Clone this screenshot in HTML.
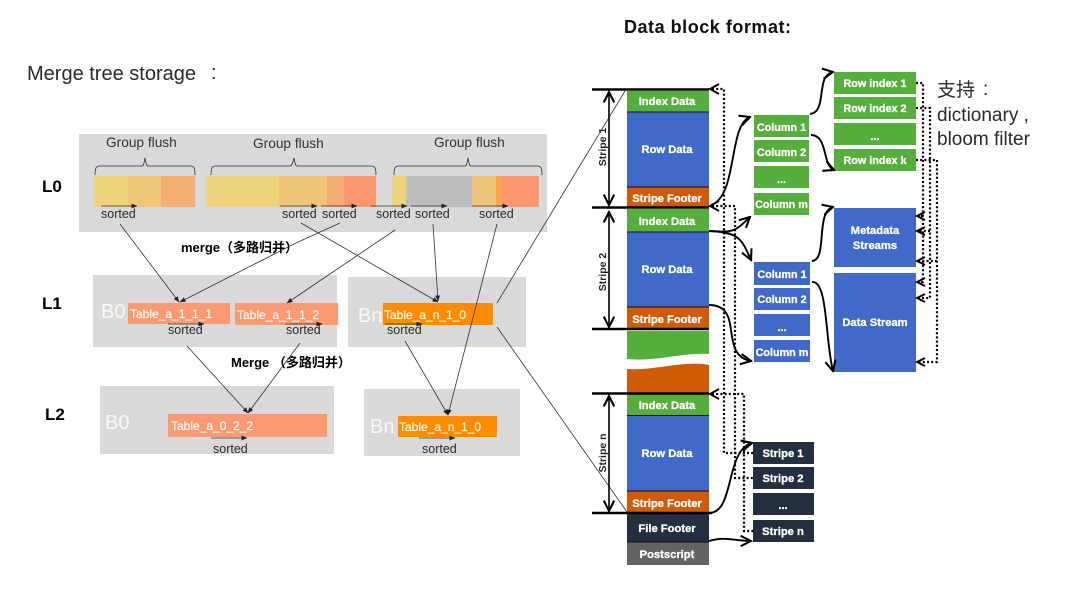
<!DOCTYPE html>
<html><head><meta charset="utf-8"><style>
html,body{margin:0;padding:0;background:#fff;width:1080px;height:589px;overflow:hidden}
svg{display:block;filter:blur(.35px)}
text{font-family:"Liberation Sans","Noto Sans CJK SC",sans-serif}
.w{fill:#fff;font-weight:bold;font-size:11.2px;text-anchor:middle;stroke:#fff;stroke-width:.3}
.n{font-size:10.8px}
.t{fill:#fff;font-size:12px;stroke:#fff;stroke-width:.15}
.s{fill:#2a2a2a;font-size:12.5px}
.g{fill:#333;font-size:13.7px}
.b{fill:#fff;font-size:20px;opacity:.85}
.l{fill:#000;font-weight:bold;font-size:17px}
.m{fill:#000;font-weight:bold;font-size:13px}
.thin{stroke:#333;stroke-width:.8;fill:none}
.cv{stroke:#000;stroke-width:1.9;fill:none}
.dot{stroke:#000;stroke-width:2.2;stroke-dasharray:2 2.2;fill:none}
.hd{stroke:#000;stroke-width:1.9;fill:none}
.bl{stroke:#000;stroke-width:2.4}
</style></head><body>
<svg width="1080" height="589" viewBox="0 0 1080 589" xmlns="http://www.w3.org/2000/svg">
<defs>
<marker id="a" viewBox="0 0 6 6" refX="5.5" refY="3" markerWidth="6" markerHeight="6" orient="auto" markerUnits="userSpaceOnUse"><path d="M0,.6L6,3L0,5.4z" fill="#222"/></marker>
<marker id="o" viewBox="0 0 10 10" refX="9" refY="5" markerWidth="13" markerHeight="13" orient="auto" markerUnits="userSpaceOnUse"><path d="M1,1L9,5L1,9" fill="none" stroke="#000" stroke-width="1.6"/></marker>
</defs>
<text x="27" y="80" font-size="20" fill="#2a2a2a">Merge tree storage</text>
<text x="211" y="79" font-size="20" fill="#2a2a2a">:</text>
<text x="624" y="33" font-size="18" font-weight="bold" fill="#111" textLength="167">Data block format:</text>

<rect x="79" y="134" width="468" height="98" fill="#d9d9d9"/>
<rect x="93" y="275" width="244" height="72" fill="#d9d9d9"/>
<rect x="348" y="277" width="178" height="70" fill="#d9d9d9"/>
<rect x="100" y="386" width="234" height="68" fill="#d9d9d9"/>
<rect x="364" y="389" width="156" height="67" fill="#d9d9d9"/>

<text class="l" x="42" y="192">L0</text>
<text class="l" x="42" y="309">L1</text>
<text class="l" x="45" y="420">L2</text>

<text class="g" x="106" y="147">Group flush</text>
<text class="g" x="253" y="148">Group flush</text>
<text class="g" x="434" y="147">Group flush</text>
<path class="thin" d="M95,175C95,168 96,166 100,166H142C144,166 144,162 145,158C146,162 146,166 148,166H190C194,166 195,168 195,175"/>
<path class="thin" d="M211,175C211,168 212,166 216,166H290C292,166 293,162 294,158C295,162 295,166 297,166H371C375,166 376,168 376,175"/>
<path class="thin" d="M394,175C394,168 395,166 399,166H465C467,166 467,162 468,158C469,162 469,166 471,166H537C541,166 542,168 542,175"/>

<rect x="94" y="176" width="34" height="31" fill="#efd37b"/>
<rect x="128" y="176" width="33" height="31" fill="#f1c679"/>
<rect x="161" y="176" width="34" height="31" fill="#f4af72"/>
<rect x="206" y="176" width="73" height="31" fill="#edd37b"/>
<rect x="279" y="176" width="48" height="31" fill="#f0c57a"/>
<rect x="327" y="176" width="17" height="31" fill="#f4ae72"/>
<rect x="344" y="176" width="32" height="31" fill="#fb9670"/>
<rect x="392" y="176" width="14" height="31" fill="#edd37b"/>
<rect x="406" y="176" width="66" height="31" fill="#bdbdbd"/>
<rect x="472" y="176" width="24" height="31" fill="#f0c57a"/>
<rect x="496" y="176" width="5" height="31" fill="#fba93f"/>
<rect x="501" y="176" width="38" height="31" fill="#fb9670"/>

<path class="thin" marker-end="url(#a)" d="M101,206H137"/>
<path class="thin" marker-end="url(#a)" d="M280,206H317"/>
<path class="thin" marker-end="url(#a)" d="M321,206H357"/>
<path class="thin" marker-end="url(#a)" d="M371,206H407"/>
<path class="thin" marker-end="url(#a)" d="M411,206H447"/>
<path class="thin" marker-end="url(#a)" d="M472,206H508"/>

<text class="s" x="101" y="218">sorted</text>
<text class="s" x="282" y="218">sorted</text>
<text class="s" x="322" y="218">sorted</text>
<text class="s" x="376" y="218">sorted</text>
<text class="s" x="415" y="218">sorted</text>
<text class="s" x="479" y="218">sorted</text>

<rect x="128" y="303" width="102" height="21" fill="#fb9a70"/>
<rect x="235" y="303" width="103" height="22" fill="#fb9a70"/>
<rect x="383" y="303" width="110" height="22" fill="#ff8c00"/>
<rect x="168" y="414" width="159" height="23" fill="#fb9a70"/>
<rect x="398" y="416" width="99" height="21" fill="#ff8c00"/>
<text class="t" x="130" y="318">Table_a_1_1_1</text>
<text class="t" x="237" y="319">Table_a_1_1_2</text>
<text class="t" x="384" y="319">Table_a_n_1_0</text>
<text class="t" x="171" y="430">Table_a_0_2_2</text>
<text class="t" x="399" y="431">Table_a_n_1_0</text>
<text class="b" x="101" y="318">B0</text>
<text class="b" x="358" y="322">Bn</text>
<text class="b" x="105" y="429">B0</text>
<text class="b" x="370" y="433">Bn</text>

<path class="thin" marker-end="url(#a)" d="M168,324H204"/>
<path class="thin" marker-end="url(#a)" d="M285,324H322"/>
<path class="thin" marker-end="url(#a)" d="M385,324H422"/>
<path class="thin" marker-end="url(#a)" d="M211,438H247"/>
<path class="thin" marker-end="url(#a)" d="M419,438H455"/>
<text class="s" x="168" y="334">sorted</text>
<text class="s" x="286" y="334">sorted</text>
<text class="s" x="387" y="334">sorted</text>
<text class="s" x="213" y="453">sorted</text>
<text class="s" x="422" y="453">sorted</text>

<text class="m" x="181" y="252">merge（多路归并）</text>
<text class="m" x="231" y="367">Merge （多路归并）</text>

<path class="thin" marker-end="url(#a)" d="M120,224L179,302"/>
<path class="thin" marker-end="url(#a)" d="M340,223L296,243L180,302"/>
<path class="thin" marker-end="url(#a)" d="M301,223L438,302"/>
<path class="thin" marker-end="url(#a)" d="M395,230L287,303"/>
<path class="thin" marker-end="url(#a)" d="M433,224L438,301"/>
<path class="thin" marker-end="url(#a)" d="M497,224L448,415"/>
<path class="thin" d="M497,303L625,91"/>
<path class="thin" d="M497,327L627,512"/>
<path class="thin" marker-end="url(#a)" d="M187,346L248,413"/>
<path class="thin" marker-end="url(#a)" d="M300,343L248,413"/>
<path class="thin" marker-end="url(#a)" d="M405,341L448,415"/>

<rect x="627" y="91" width="82" height="21" fill="#56ae3c"/>
<rect x="627" y="112" width="82" height="75" fill="#4169c9"/>
<rect x="627" y="187" width="82" height="20" fill="#d05a05"/>
<rect x="627" y="209" width="82" height="23" fill="#56ae3c"/>
<rect x="627" y="232" width="82" height="75" fill="#4169c9"/>
<rect x="627" y="307" width="82" height="22" fill="#d05a05"/>
<path d="M627,331H709V354C685,352 655,362 627,359Z" fill="#56ae3c"/>
<path d="M627,369C655,371 685,360 709,365V393H627Z" fill="#d05a05"/>
<rect x="627" y="394" width="82" height="21" fill="#56ae3c"/>
<rect x="627" y="416" width="82" height="75" fill="#4169c9"/>
<rect x="627" y="491" width="82" height="22" fill="#d05a05"/>
<rect x="627" y="513" width="82" height="29" fill="#232f3e"/>
<rect x="627" y="542" width="82" height="23" fill="#636363"/>
<path stroke="#111" stroke-width="1" d="M627,112H709M627,187H709M627,232H709M627,307H709M627,415.500H709M627,491H709M627,542H709"/>
<path class="bl" d="M592,89.500H709M592,207.500H709M592,329H709M592,393.500H709M592,513H712"/>

<g stroke="#000" stroke-width="1.6" fill="none">
<path marker-end="url(#o)" d="M609,150V92"/>
<path marker-end="url(#o)" d="M609,150V205"/>
<path marker-end="url(#o)" d="M609,270V212"/>
<path marker-end="url(#o)" d="M609,270V327"/>
<path marker-end="url(#o)" d="M609,450V396"/>
<path marker-end="url(#o)" d="M609,450V511"/>
</g>
<text transform="translate(606,147) rotate(-90)" font-size="10.5" font-weight="bold" text-anchor="middle" fill="#222">Stripe 1</text>
<text transform="translate(606,272) rotate(-90)" font-size="10.5" font-weight="bold" text-anchor="middle" fill="#222">Stripe 2</text>
<text transform="translate(606,453) rotate(-90)" font-size="10.5" font-weight="bold" text-anchor="middle" fill="#222">Stripe n</text>

<text class="w" x="667" y="105">Index Data</text>
<text class="w" x="667" y="153">Row Data</text>
<text class="w" x="667" y="202">Stripe Footer</text>
<text class="w" x="667" y="225">Index Data</text>
<text class="w" x="667" y="273">Row Data</text>
<text class="w" x="667" y="323">Stripe Footer</text>
<text class="w" x="667" y="409">Index Data</text>
<text class="w" x="667" y="457">Row Data</text>
<text class="w" x="667" y="507">Stripe Footer</text>
<text class="w" x="667" y="532">File Footer</text>
<text class="w" x="667" y="558">Postscript</text>

<g fill="#56ae3c">
<rect x="754" y="115" width="55" height="22"/><rect x="754" y="140" width="55" height="22"/><rect x="754" y="166" width="55" height="22"/><rect x="754" y="193" width="55" height="22"/>
<rect x="834" y="72" width="82" height="22"/><rect x="834" y="97" width="82" height="22"/><rect x="834" y="123" width="82" height="22"/><rect x="834" y="149" width="82" height="22"/>
</g>
<g fill="#4169c9">
<rect x="754" y="262" width="56" height="23"/><rect x="754" y="288" width="56" height="22"/><rect x="754" y="314" width="56" height="22"/><rect x="754" y="340" width="56" height="22"/>
<rect x="834" y="208" width="82" height="59"/><rect x="834" y="273" width="82" height="99"/>
</g>
<g fill="#232f3e">
<rect x="753" y="442" width="61" height="22"/><rect x="753" y="467" width="61" height="22"/><rect x="753" y="493" width="61" height="22"/><rect x="753" y="520" width="61" height="22"/>
</g>
<text class="w n" x="781.500" y="131">Column 1</text>
<text class="w n" x="781.500" y="156">Column 2</text>
<text class="w n" x="781.500" y="183">...</text>
<text class="w n" x="781.500" y="208">Column m</text>
<text class="w n" x="782" y="278">Column 1</text>
<text class="w n" x="782" y="303">Column 2</text>
<text class="w n" x="782" y="331">...</text>
<text class="w n" x="782" y="356">Column m</text>
<text class="w n" x="875" y="87">Row index 1</text>
<text class="w n" x="875" y="112">Row index 2</text>
<text class="w" x="875" y="140">...</text>
<text class="w n" x="875" y="164">Row index k</text>
<text class="w" x="875" y="234">Metadata</text>
<text class="w" x="875" y="249">Streams</text>
<text class="w" x="875" y="326">Data Stream</text>
<text class="w" x="783" y="457">Stripe 1</text>
<text class="w" x="783" y="482">Stripe 2</text>
<text class="w" x="783" y="509">...</text>
<text class="w" x="783" y="535">Stripe n</text>

<text x="937" y="96" font-size="19" fill="#2a2a2a">支持</text>
<text x="983" y="95" font-size="19" fill="#2a2a2a">:</text>
<text x="937" y="121" font-size="19" fill="#2a2a2a">dictionary ,</text>
<text x="937" y="145" font-size="19" fill="#2a2a2a">bloom filter</text>

<path class="cv" marker-end="url(#o)" d="M711,205C738,196 728,125 750,117"/>
<path class="cv" marker-end="url(#o)" d="M709,231C735,233 735,231 750,217"/>
<path class="cv" marker-end="url(#o)" d="M709,231C740,232 742,240 751,260"/>
<path class="cv" marker-end="url(#o)" d="M709,305C745,305 718,355 751,361"/>
<path class="cv" marker-end="url(#o)" d="M810,114C828,112 815,75 833,72"/>
<path class="cv" marker-end="url(#o)" d="M811,135C828,135 822,165 834,170"/>
<path class="cv" marker-end="url(#o)" d="M812,261C828,260 815,212 833,207"/>
<path class="cv" marker-end="url(#o)" d="M812,282C828,280 825,340 833,371"/>
<path class="cv" marker-end="url(#o)" d="M709,513C735,513 725,450 752,443"/>
<path class="cv" marker-end="url(#o)" d="M709,541C725,536 735,541 751,541"/>

<path class="dot" d="M712,89H724V453H753"/>
<path class="dot" d="M712,206H735V478H753"/>
<path class="dot" d="M712,394H744V531H753"/>
<path class="dot" d="M916,83H923V282H918M923,216H918"/>
<path class="dot" d="M916,108H930V298H918M930,231H918"/>
<path class="dot" d="M916,160H937V362H918M937,261H918"/>
<path class="hd" d="M719,84L710,89L719,94"/>
<path class="hd" d="M719,201L710,206L719,211"/>
<path class="hd" d="M719,389L710,394L719,399"/>
<path class="hd" d="M925,212L917,216L925,220"/>
<path class="hd" d="M925,227L917,231L925,235"/>
<path class="hd" d="M925,257L917,261L925,265"/>
<path class="hd" d="M925,278L917,282L925,286"/>
<path class="hd" d="M925,294L917,298L925,302"/>
<path class="hd" d="M925,358L917,362L925,366"/>
</svg>
</body></html>
